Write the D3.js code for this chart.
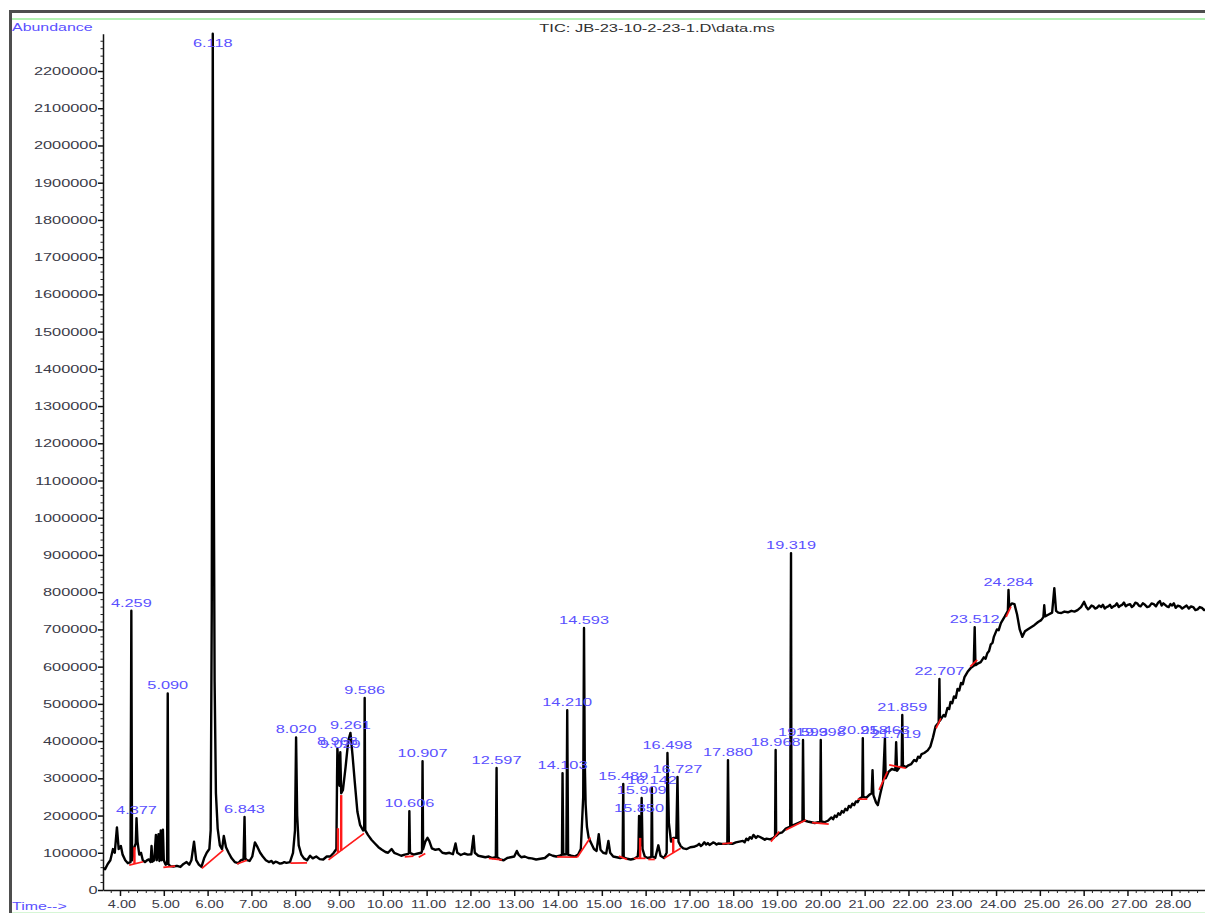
<!DOCTYPE html>
<html><head><meta charset="utf-8">
<script src="https://cdn.jsdelivr.net/npm/d3@7"></script>
<style>html,body{margin:0;padding:0;background:#fff;overflow:hidden}svg{display:block}</style>
</head><body><svg id="chart" width="1205" height="913"></svg>
<script>
// Total ion chromatogram, JB-23-10-2-23-1.D

const titleText = "TIC: JB-23-10-2-23-1.D\\data.ms";
const yTicks = [0, 100000, 200000, 300000, 400000, 500000, 600000, 700000, 800000, 900000, 1000000,
  1100000, 1200000, 1300000, 1400000, 1500000, 1600000, 1700000, 1800000, 1900000, 2000000, 2100000, 2200000];
const xTicks = [4, 5, 6, 7, 8, 9, 10, 11, 12, 13, 14, 15, 16, 17, 18, 19, 20, 21, 22, 23, 24, 25, 26, 27, 28];

// Integrated peaks: retention time (min) and apex abundance
const peakTimes = [4.259, 4.377, 5.090, 6.118, 6.843, 8.020, 8.963, 9.029, 9.261, 9.586, 10.606, 10.907,
  12.597, 14.103, 14.210, 14.593, 15.489, 15.850, 15.909, 16.142, 16.498, 16.727, 17.880, 18.968,
  19.319, 19.593, 19.998, 20.958, 21.463, 21.719, 21.859, 22.707, 23.512, 24.284];
const peakHeights = [750000, 193000, 528000, 2300000, 196000, 410000, 380000, 370000, 422000, 516000, 212000, 346000,
  328000, 314000, 483000, 704000, 285000, 199000, 247000, 274000, 368000, 304000, 349000, 376000,
  905000, 403000, 403000, 408000, 408000, 397000, 470000, 567000, 706000, 806000];

// Signal between the labelled apexes: [time, abundance]
const traceBody = [
  [3.61, 60000], [3.66, 56000], [3.72, 70000], [3.78, 80000], [3.84, 110000], [3.88, 100000],
  [3.93, 168000], [3.97, 110000], [4.02, 118000], [4.06, 95000], [4.12, 80000], [4.18, 72000],
  [4.24, 75000], [4.275, 80000], [4.30, 95000], [4.33, 115000], [4.36, 125000], [4.40, 130000],
  [4.44, 95000], [4.48, 100000], [4.52, 80000], [4.57, 75000], [4.62, 80000], [4.66, 82000],
  [4.70, 75000], [4.72, 118000], [4.74, 76000], [4.78, 80000], [4.82, 148000], [4.84, 80000],
  [4.88, 150000], [4.90, 78000], [4.93, 160000], [4.95, 80000], [4.98, 162000], [5.00, 80000],
  [5.04, 68000], [5.075, 70000], [5.105, 70000], [5.15, 64000], [5.22, 63000], [5.30, 65000],
  [5.38, 62000], [5.45, 70000], [5.52, 75000], [5.58, 68000], [5.63, 80000], [5.69, 130000],
  [5.74, 80000], [5.80, 68000], [5.86, 62000], [5.92, 85000], [5.98, 100000], [6.04, 110000],
  [6.07, 160000], [6.095, 750000], [6.14, 1150000], [6.16, 560000], [6.19, 260000], [6.23, 165000],
  [6.28, 120000], [6.33, 110000], [6.37, 145000], [6.42, 115000], [6.48, 100000], [6.55, 85000],
  [6.62, 75000], [6.70, 72000], [6.76, 80000], [6.82, 82000], [6.86, 85000], [6.90, 80000],
  [6.96, 78000], [7.02, 90000], [7.08, 128000], [7.14, 115000], [7.20, 100000], [7.26, 90000],
  [7.33, 80000], [7.40, 75000], [7.46, 78000], [7.50, 72000], [7.55, 76000], [7.60, 74000],
  [7.65, 71000], [7.70, 72000], [7.75, 75000], [7.80, 73000],
  [7.88, 75000], [7.95, 100000], [7.995, 160000], [8.045, 200000], [8.08, 120000], [8.14, 95000],
  [8.20, 85000], [8.27, 80000], [8.34, 92000], [8.40, 85000], [8.48, 90000], [8.56, 83000],
  [8.64, 82000], [8.72, 90000], [8.80, 90000], [8.88, 100000], [8.94, 110000], [8.955, 300000],
  [8.99, 330000], [9.01, 280000], [9.05, 260000], [9.09, 269000], [9.15, 330000], [9.21, 400000],
  [9.31, 360000], [9.36, 290000], [9.42, 210000], [9.48, 175000], [9.55, 160000], [9.575, 165000],
  [9.60, 160000], [9.66, 148000], [9.74, 135000], [9.82, 125000], [9.90, 115000], [9.98, 108000],
  [10.06, 102000], [10.12, 100000], [10.20, 110000], [10.26, 100000], [10.34, 96000], [10.42, 92000],
  [10.50, 95000], [10.58, 97000], [10.595, 100000], [10.62, 100000], [10.70, 95000], [10.80, 98000],
  [10.88, 100000], [10.895, 105000], [10.92, 110000], [10.97, 130000], [11.02, 140000], [11.06, 132000],
  [11.12, 112000], [11.20, 108000], [11.28, 110000], [11.36, 100000], [11.44, 98000], [11.52, 100000],
  [11.60, 96000], [11.66, 125000], [11.70, 100000], [11.78, 94000], [11.86, 98000], [11.94, 95000],
  [12.02, 96000], [12.07, 145000], [12.10, 100000], [12.18, 92000], [12.26, 90000], [12.34, 88000],
  [12.42, 90000], [12.50, 86000], [12.58, 88000], [12.61, 88000], [12.68, 82000], [12.76, 80000],
  [12.84, 86000], [12.92, 88000], [13.00, 90000], [13.06, 105000], [13.10, 95000], [13.16, 88000],
  [13.24, 90000], [13.32, 86000], [13.40, 85000], [13.50, 82000], [13.60, 84000], [13.70, 86000],
  [13.80, 96000], [13.88, 92000], [13.96, 90000], [14.04, 92000], [14.09, 95000], [14.12, 95000],
  [14.19, 96000], [14.23, 95000], [14.30, 92000], [14.38, 90000], [14.46, 95000], [14.52, 110000],
  [14.575, 250000], [14.61, 350000], [14.63, 230000], [14.66, 170000], [14.70, 140000], [14.76, 125000],
  [14.82, 110000], [14.88, 105000], [14.93, 150000], [14.97, 108000], [15.03, 100000], [15.10, 98000],
  [15.15, 132000], [15.19, 100000], [15.26, 90000], [15.34, 88000], [15.42, 86000], [15.475, 88000],
  [15.50, 88000], [15.58, 84000], [15.66, 82000], [15.74, 84000], [15.82, 90000], [15.835, 110000],
  [15.875, 150000], [15.895, 120000], [15.93, 110000], [15.98, 90000], [16.05, 86000], [16.12, 88000],
  [16.13, 90000], [16.155, 90000], [16.22, 86000], [16.29, 120000], [16.34, 92000], [16.42, 86000],
  [16.48, 100000], [16.53, 180000], [16.58, 130000], [16.63, 140000], [16.70, 140000], [16.75, 130000],
  [16.80, 118000], [16.86, 112000], [16.94, 110000], [17.02, 115000], [17.10, 116000], [17.18, 120000],
  [17.22, 124000], [17.26, 118000], [17.30, 122000], [17.34, 128000], [17.38, 122000], [17.42, 126000],
  [17.46, 121000], [17.50, 124000], [17.54, 128000], [17.58, 126000], [17.62, 122000], [17.66, 125000],
  [17.74, 124000], [17.82, 124000], [17.865, 125000], [17.90, 125000], [17.98, 124000], [18.06, 128000],
  [18.14, 130000], [18.22, 132000], [18.26, 128000], [18.30, 138000], [18.34, 134000], [18.38, 142000],
  [18.42, 138000], [18.46, 148000], [18.52, 140000], [18.56, 145000],
  [18.60, 143000], [18.68, 138000], [18.72, 135000], [18.76, 138000], [18.84, 136000], [18.92, 140000], [18.955, 145000],
  [18.98, 145000], [19.04, 152000], [19.12, 155000], [19.20, 165000], [19.30, 170000], [19.33, 172000],
  [19.40, 176000], [19.48, 180000], [19.58, 185000], [19.61, 187000], [19.70, 184000], [19.78, 182000],
  [19.86, 180000], [19.94, 182000], [19.985, 184000], [20.01, 184000], [20.08, 182000], [20.16, 186000],
  [20.24, 195000], [20.28, 190000], [20.32, 200000], [20.36, 196000], [20.40, 206000], [20.44, 202000],
  [20.48, 212000], [20.52, 208000], [20.56, 218000], [20.60, 214000], [20.64, 226000], [20.68, 222000],
  [20.72, 232000], [20.76, 228000], [20.80, 238000], [20.84, 236000], [20.88, 245000], [20.945, 250000], [20.97, 250000], [21.04, 248000],
  [21.10, 255000], [21.16, 260000], [21.18, 322000], [21.20, 255000], [21.26, 235000], [21.30, 228000],
  [21.36, 260000], [21.42, 290000], [21.48, 300000], [21.55, 318000], [21.62, 325000], [21.70, 322000],
  [21.74, 320000], [21.80, 330000], [21.845, 332000], [21.875, 335000], [21.94, 330000], [22.00, 335000],
  [22.06, 338000], [22.13, 349000], [22.18, 346000], [22.22, 358000], [22.26, 355000], [22.30, 365000],
  [22.36, 368000], [22.44, 375000],
  [22.50, 385000], [22.56, 410000], [22.62, 440000], [22.69, 450000], [22.72, 455000], [22.80, 470000],
  [22.84, 466000], [22.89, 489000], [22.93, 486000], [22.96, 505000], [23.00, 502000], [23.04, 520000],
  [23.08, 516000], [23.12, 540000], [23.16, 536000], [23.20, 556000], [23.24, 553000], [23.28, 572000],
  [23.35, 586000], [23.42, 596000], [23.49, 602000], [23.53, 604000], [23.58, 608000], [23.65, 612000],
  [23.72, 625000], [23.76, 621000], [23.80, 636000], [23.84, 642000], [23.88, 660000], [23.92, 664000],
  [23.95, 680000], [24.02, 700000], [24.06, 698000], [24.11, 717000],
  [24.20, 735000], [24.27, 750000], [24.30, 760000], [24.36, 770000], [24.42, 768000], [24.48, 740000],
  [24.54, 700000], [24.60, 680000], [24.66, 695000], [24.72, 700000], [24.80, 706000], [24.88, 712000],
  [24.96, 720000], [25.03, 725000], [25.08, 733000], [25.10, 765000], [25.12, 735000], [25.20, 740000],
  [25.28, 745000], [25.33, 811000], [25.37, 750000], [25.42, 745000], [25.49, 744000], [25.56, 748000],
  [25.64, 746000], [25.72, 750000], [25.79, 748000], [25.86, 752000], [25.94, 760000], [26.01, 774000],
  [26.06, 760000], [26.10, 754000], [26.14, 758000], [26.18, 764000], [26.22, 762000], [26.26, 756000],
  [26.30, 758000], [26.35, 764000], [26.40, 760000], [26.44, 766000], [26.48, 756000], [26.52, 760000],
  [26.56, 762000], [26.60, 766000], [26.64, 758000], [26.68, 762000], [26.72, 764000], [26.76, 770000],
  [26.80, 760000], [26.84, 764000], [26.88, 766000], [26.92, 772000], [26.96, 762000], [27.01, 766000],
  [27.06, 768000], [27.10, 760000], [27.14, 764000], [27.18, 772000], [27.22, 770000], [27.26, 764000],
  [27.30, 762000], [27.35, 770000], [27.40, 766000], [27.45, 760000], [27.50, 762000], [27.55, 770000],
  [27.60, 768000], [27.65, 762000], [27.70, 772000], [27.74, 776000], [27.78, 764000], [27.82, 770000],
  [27.86, 766000], [27.90, 762000], [27.94, 760000], [27.98, 768000], [28.02, 764000], [28.06, 770000],
  [28.10, 758000], [28.15, 764000], [28.20, 762000], [28.25, 756000], [28.30, 760000], [28.35, 764000],
  [28.40, 756000], [28.45, 762000], [28.50, 760000], [28.55, 752000], [28.60, 754000], [28.65, 760000],
  [28.70, 758000], [28.75, 752000], [28.80, 754000]
];

// Integration baselines: [t1, v1, t2, v2]
const baselines = [
  [4.21, 67000, 4.53, 76000], [4.99, 61000, 5.26, 64000], [5.87, 58000, 6.36, 107000],
  [6.67, 70000, 6.90, 80000], [7.89, 72000, 8.27, 73000], [8.76, 81000, 9.57, 152000],
  [10.50, 89000, 10.70, 91000], [10.82, 88000, 10.97, 98000], [12.42, 85000, 12.72, 81000],
  [13.98, 89000, 14.44, 88000], [14.44, 88000, 14.74, 141000], [15.39, 91000, 15.58, 82000],
  [15.73, 85000, 16.00, 85000], [16.06, 82000, 16.21, 82000], [16.42, 85000, 16.80, 112000],
  [17.75, 124000, 17.98, 127000], [18.86, 130000, 19.05, 157000], [19.20, 161000, 19.66, 188000],
  [19.80, 181000, 20.18, 177000], [20.84, 244000, 21.06, 244000], [21.33, 269000, 21.52, 318000],
  [21.56, 336000, 21.94, 327000], [22.63, 434000, 22.74, 461000], [23.41, 600000, 23.57, 618000],
  [24.23, 734000, 24.34, 761000]
];
// Peak-split drop lines: [time, from, to]
const dropLines = [
  [4.33, 70000, 115000], [8.975, 100000, 166000], [9.05, 106000, 255000],
  [15.875, 85000, 140000], [16.63, 100000, 140000]
];

const svg = d3.select("#chart");
const FONT = "'Liberation Sans', Arial, sans-serif";
const BLUE = "#5a50ff";
const INK = "#3b3b48";

const x = d3.scaleLinear().domain([3.612, 28.77]).range([103, 1205]);
const y = d3.scaleLinear().domain([0, 2300000]).range([890, 33.8]);

function stretched(g, px, py, str, size, sx, anchor, color) {
  return g.append("text")
    .attr("transform", `translate(${px},${py}) scale(${sx},1)`)
    .attr("text-anchor", anchor)
    .attr("font-family", FONT)
    .attr("font-size", size)
    .attr("fill", color)
    .text(str);
}

// frame
svg.append("line").attr("x1", 9).attr("x2", 1205).attr("y1", 11.5).attr("y2", 11.5)
  .attr("stroke", "#4e4e4e").attr("stroke-width", 3);
svg.append("line").attr("x1", 10.5).attr("x2", 10.5).attr("y1", 10).attr("y2", 913)
  .attr("stroke", "#4e4e4e").attr("stroke-width", 3);
svg.append("line").attr("x1", 12).attr("x2", 1205).attr("y1", 19).attr("y2", 19)
  .attr("stroke", "#98ee98").attr("stroke-width", 1.6);
svg.append("line").attr("x1", 12).attr("x2", 1205).attr("y1", 912.5).attr("y2", 912.5)
  .attr("stroke", "#d6f6d6").attr("stroke-width", 1);

stretched(svg, 12, 30.5, "Abundance", 11, 1.45, "start", BLUE);
stretched(svg, 12, 910, "Time-->", 11, 1.45, "start", BLUE);
stretched(svg, 657, 32, titleText, 11, 1.5, "middle", "#303030");

// y axis
const gy = svg.append("g").attr("transform", "translate(103,0)")
  .call(d3.axisLeft(y).tickValues(yTicks).tickSize(5).tickSizeOuter(0).tickFormat(""));
gy.selectAll("path,line").attr("stroke", "#111").attr("stroke-width", 1.5);
const yMinor = d3.range(0, 2300000, 20000).filter(v => v % 100000 !== 0);
gy.selectAll("line.minor").data(yMinor).join("line").attr("class", "minor")
  .attr("x1", -2.5).attr("x2", 0).attr("y1", d => y(d)).attr("y2", d => y(d))
  .attr("stroke", "#222").attr("stroke-width", 1);
yTicks.forEach(v => stretched(svg, 97.5, y(v) + 4, d3.format("d")(v), 11.5, 1.42, "end", INK));

// x axis
const gx = svg.append("g").attr("transform", "translate(0,890)")
  .call(d3.axisBottom(x).tickValues(xTicks).tickSize(6).tickSizeOuter(0).tickFormat(""));
gx.selectAll("path,line").attr("stroke", "#111").attr("stroke-width", 1.5);
const xMinor = d3.range(38, 288, 2).map(v => v / 10).filter(v => Math.abs(v - Math.round(v)) > 1e-6);
gx.selectAll("line.minor").data(xMinor).join("line").attr("class", "minor")
  .attr("x1", d => x(d)).attr("x2", d => x(d)).attr("y1", 0).attr("y2", 3)
  .attr("stroke", "#222").attr("stroke-width", 1);
xTicks.forEach(t => stretched(svg, x(t) + 2, 907.5, d3.format(".2f")(t), 11, 1.32, "middle", INK));

// plot content
svg.append("clipPath").attr("id", "plotclip").append("rect")
  .attr("x", 103).attr("y", 30).attr("width", 1102).attr("height", 860);
const plot = svg.append("g").attr("clip-path", "url(#plotclip)");

const apexes = peakTimes.map((t, i) => [t, peakHeights[i]]);
const trace = traceBody.concat(apexes).sort((a, b) => a[0] - b[0]);

plot.append("path").datum(trace)
  .attr("d", d3.line().x(d => x(d[0])).y(d => y(d[1])))
  .attr("fill", "none").attr("stroke", "#000").attr("stroke-width", 2.4)
  .attr("stroke-linejoin", "round");

plot.selectAll("line.base").data(baselines).join("line").attr("class", "base")
  .attr("x1", d => x(d[0])).attr("y1", d => y(d[1]))
  .attr("x2", d => x(d[2])).attr("y2", d => y(d[3]))
  .attr("stroke", "#ff1a1a").attr("stroke-width", 1.7);
plot.selectAll("line.drop").data(dropLines).join("line").attr("class", "drop")
  .attr("x1", d => x(d[0])).attr("y1", d => y(d[1]))
  .attr("x2", d => x(d[0])).attr("y2", d => y(d[2]))
  .attr("stroke", "#ff1a1a").attr("stroke-width", 2.4);

// retention-time labels
apexes.forEach(([t, v]) => {
  const py = Math.max(y(v) - 4, 46.5);
  stretched(svg, x(t), py, d3.format(".3f")(t), 11.5, 1.42, "middle", BLUE);
});
</script></body></html>
